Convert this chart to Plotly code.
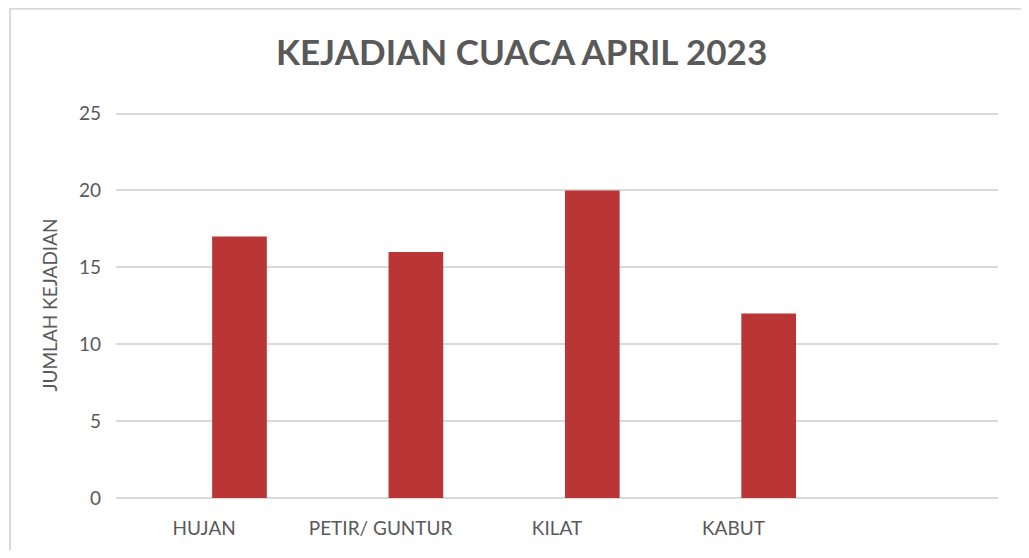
import plotly.graph_objects as go

categories = ["HUJAN", "PETIR/ GUNTUR", "KILAT", "KABUT", " "]
jumlah = [17, 16, 20, 12, None]
y_ticks = [0, 5, 10, 15, 20, 25]

grey = "#595959"

fig = go.Figure()
fig.add_trace(go.Bar(
    x=categories, y=jumlah,
    width=0.31, offset=0.045,
    marker=dict(color="#b93536", line=dict(width=0)),
))

# light frame round the chart area, like the spreadsheet chart border
fig.add_shape(type="rect", xref="paper", yref="paper",
              x0=-0.1202, x1=1.3, y0=-0.3, y1=1.2675,
              line=dict(color="#d9d9d9", width=2), layer="below")

fig.update_layout(
    width=1013, height=542,
    margin=dict(l=108, r=23, t=104, b=52),
    paper_bgcolor="white", plot_bgcolor="white",
    showlegend=False,
    font=dict(family="Lato", color=grey),
    title=dict(text="<b>KEJADIAN CUACA APRIL 2023</b>", x=0.507, xanchor="center",
               y=0.917, yanchor="middle", font=dict(size=35, color=grey)),
)
fig.update_xaxes(type="category", showgrid=False, showline=False, ticks="",
                 tickfont=dict(size=19, color=grey), ticklabelstandoff=17)
fig.update_yaxes(range=[0, 25.1], tickvals=y_ticks, showgrid=True,
                 gridcolor="#d9d9d9", gridwidth=1.5, zeroline=True,
                 zerolinecolor="#d9d9d9", zerolinewidth=1.5,
                 tickfont=dict(size=19, color=grey), ticklabelstandoff=14,
                 title=dict(text="JUMLAH KEJADIAN", font=dict(size=19, color=grey),
                            standoff=16))

fig.write_html("out.html")
